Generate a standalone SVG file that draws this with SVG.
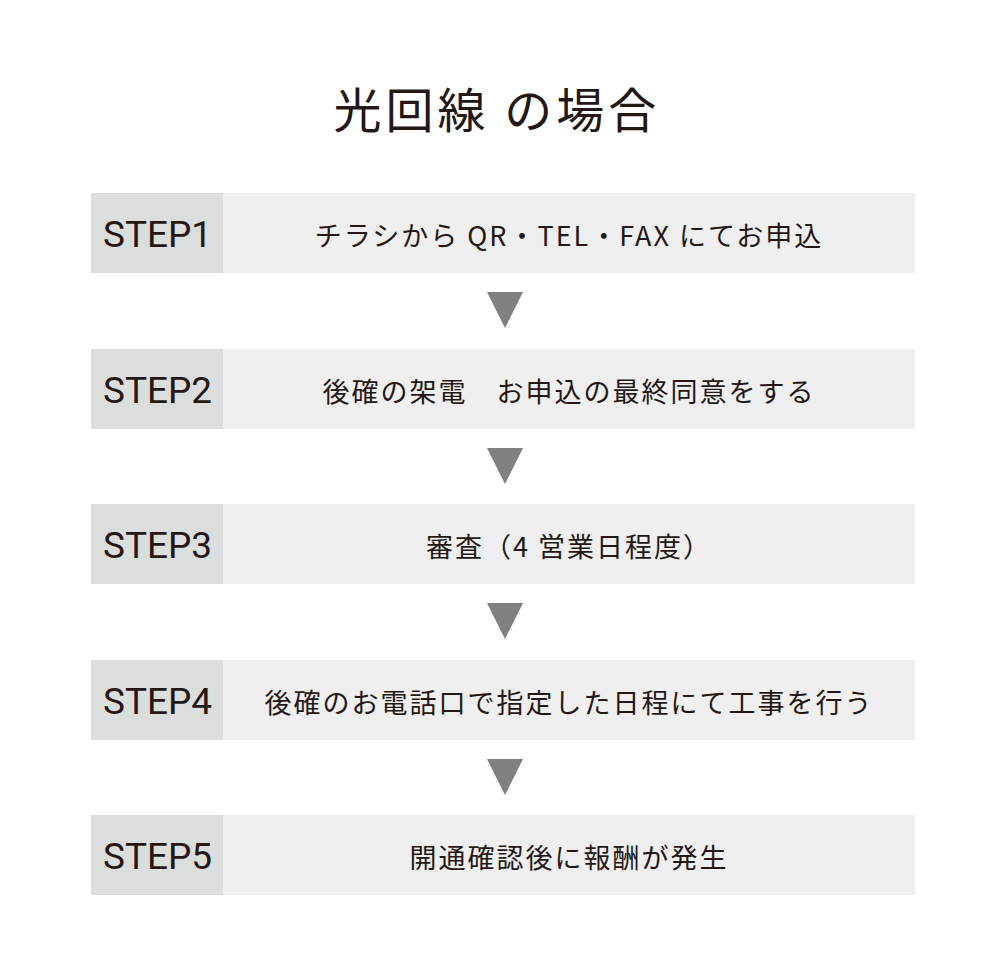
<svg xmlns="http://www.w3.org/2000/svg" width="994" height="965" viewBox="0 0 994 965">
<style>
.l{fill:#dcdddd}.r{fill:#efefef}
.s{font-family:"Roboto","Noto Sans CJK JP",sans-serif;font-weight:400;font-size:37px;fill:#231815}
.t{font-family:"Noto Sans CJK JP",sans-serif;font-size:27px;letter-spacing:2px;fill:#231815;text-anchor:middle}
.a{fill:#808080}
</style>
<rect width="994" height="965" fill="#fff"/>
<text x="497" y="128" style="font-family:'Noto Sans CJK JP',sans-serif;font-size:48px;letter-spacing:4px;fill:#231815;text-anchor:middle">光回線 の場合</text>
<g id="step1"><rect class="l" x="91" y="193" width="132" height="80"/><rect class="r" x="223" y="193" width="692" height="80"/><text class="s" x="103" y="247" textLength="109" lengthAdjust="spacingAndGlyphs">STEP1</text><text class="t" x="569" y="246">チラシから QR・TEL・FAX にてお申込</text></g>
<g id="step2"><rect class="l" x="91" y="349" width="132" height="80"/><rect class="r" x="223" y="349" width="692" height="80"/><text class="s" x="103" y="403" textLength="109" lengthAdjust="spacingAndGlyphs">STEP2</text><text class="t" x="569" y="402">後確の架電　お申込の最終同意をする</text></g>
<g id="step3"><rect class="l" x="91" y="504" width="132" height="80"/><rect class="r" x="223" y="504" width="692" height="80"/><text class="s" x="103" y="558" textLength="109" lengthAdjust="spacingAndGlyphs">STEP3</text><text class="t" x="569" y="557">審査（4 営業日程度）</text></g>
<g id="step4"><rect class="l" x="91" y="660" width="132" height="80"/><rect class="r" x="223" y="660" width="692" height="80"/><text class="s" x="103" y="714" textLength="109" lengthAdjust="spacingAndGlyphs">STEP4</text><text class="t" x="569" y="713">後確のお電話口で指定した日程にて工事を行う</text></g>
<g id="step5"><rect class="l" x="91" y="815" width="132" height="80"/><rect class="r" x="223" y="815" width="692" height="80"/><text class="s" x="103" y="869" textLength="109" lengthAdjust="spacingAndGlyphs">STEP5</text><text class="t" x="569" y="868">開通確認後に報酬が発生</text></g>
<g id="connectors">
<polygon class="a" points="487,292 523,292 505,328"/>
<polygon class="a" points="487,448 523,448 505,484"/>
<polygon class="a" points="487,603 523,603 505,639"/>
<polygon class="a" points="487,759 523,759 505,795"/>
</g>
</svg>
